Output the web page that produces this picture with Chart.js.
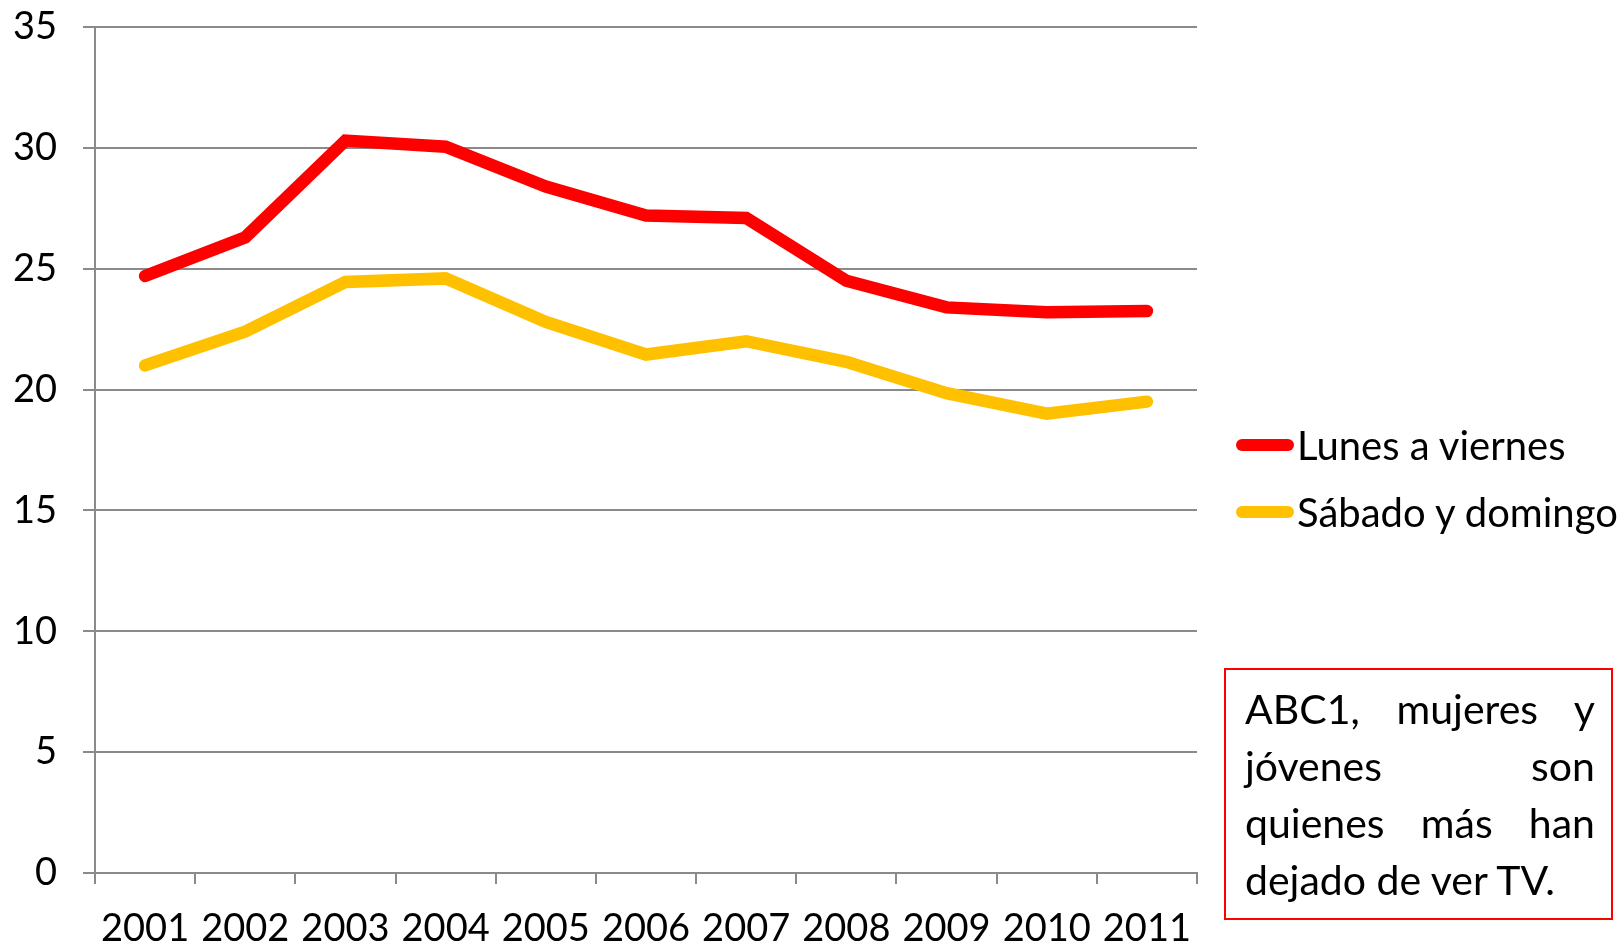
<!DOCTYPE html>
<html>
<head>
<meta charset="utf-8">
<script src="https://cdn.jsdelivr.net/npm/chart.js@4"></script>
<style>
  html, body { margin: 0; padding: 0; background: #fff; }
  body { width: 1620px; height: 945px; position: relative; overflow: hidden; font-family: Lato, "Open Sans", sans-serif; }
  #wrap { position: absolute; left: 0; top: 0; width: 1620px; height: 945px; }
  .legend { position: absolute; left: 1236px; font-size: 40px; color: #000; display: flex; align-items: center; white-space: nowrap; }
  .legend .sw { width: 58px; height: 12px; border-radius: 6px; margin-right: 3px; }
  #note { position: absolute; left: 1224px; top: 668px; width: 385px; height: 248px; border: 2px solid #ff0000; box-sizing: content-box; }
  #note .ln { position: absolute; left: 19px; width: 350px; font-size: 41px; line-height: 57px; text-align: justify; text-align-last: justify; color: #000; white-space: nowrap; }
  #note .ln.last { text-align-last: left; }
</style>
</head>
<body>
<div id="wrap"><canvas id="c" width="1620" height="945"></canvas></div>
<div class="legend" id="lg0" style="top:421px"><div class="sw" style="background:#ff0000"></div><span>Lunes a viernes</span></div>
<div class="legend" id="lg1" style="top:488px"><div class="sw" style="background:#ffc000"></div><span>Sábado y domingo</span></div>
<div id="note">
  <div class="ln" style="top:10px">ABC1, mujeres y</div>
  <div class="ln" style="top:67px">jóvenes son</div>
  <div class="ln" style="top:124px">quienes más han</div>
  <div class="ln last" style="top:181px">dejado de ver TV.</div>
</div>
<script>
const years = ['2001','2002','2003','2004','2005','2006','2007','2008','2009','2010','2011'];
const lunesAViernes = [24.7, 26.3, 30.3, 30.05, 28.4, 27.2, 27.1, 24.5, 23.4, 23.2, 23.25];
const sabadoYDomingo = [21.0, 22.4, 24.45, 24.6, 22.8, 21.45, 22.0, 21.15, 19.85, 19.0, 19.5];
const seriesNames = ['Lunes a viernes', 'Sábado y domingo'];
const yTicks = [0, 5, 10, 15, 20, 25, 30, 35];

const gridGray = '#8a8a8a';
new Chart(document.getElementById('c'), {
  type: 'line',
  data: {
    labels: years,
    datasets: [
      { label: seriesNames[0], data: lunesAViernes, borderColor: '#ff0000', backgroundColor: '#ff0000', borderWidth: 12.5, pointRadius: 0, tension: 0, borderCapStyle: 'round', borderJoinStyle: 'miter' },
      { label: seriesNames[1], data: sabadoYDomingo, borderColor: '#ffc000', backgroundColor: '#ffc000', borderWidth: 12.5, pointRadius: 0, tension: 0, borderCapStyle: 'round', borderJoinStyle: 'miter' }
    ]
  },
  options: {
    responsive: false,
    animation: false,
    layout: { padding: { left: 0, top: 27, right: 423, bottom: 0 } },
    plugins: { legend: { display: false }, tooltip: { enabled: false }, title: { display: false } },
    scales: {
      x: {
        type: 'category',
        offset: true,
        grid: { offset: true, drawOnChartArea: false, drawTicks: true, tickLength: 11, color: gridGray, lineWidth: 2 },
        border: { display: true, color: gridGray, width: 2 },
        ticks: { color: '#000', font: { family: 'Lato', size: 38 }, padding: 22, maxRotation: 0, autoSkip: false },
        afterFit: (s) => { s.height = 72; s.paddingLeft = 0; s.paddingRight = 0; }
      },
      y: {
        min: 0, max: 35,
        afterBuildTicks: (s) => { s.ticks = yTicks.map(v => ({ value: v })); },
        grid: { color: gridGray, lineWidth: 2, drawTicks: true, tickLength: 12 },
        border: { display: true, color: gridGray, width: 2 },
        ticks: { color: '#000', font: { family: 'Lato', size: 38 }, padding: 26 },
        afterFit: (s) => { s.width = 95; s.paddingTop = 0; s.paddingBottom = 0; }
      }
    }
  }
});
</script>
</body>
</html>
